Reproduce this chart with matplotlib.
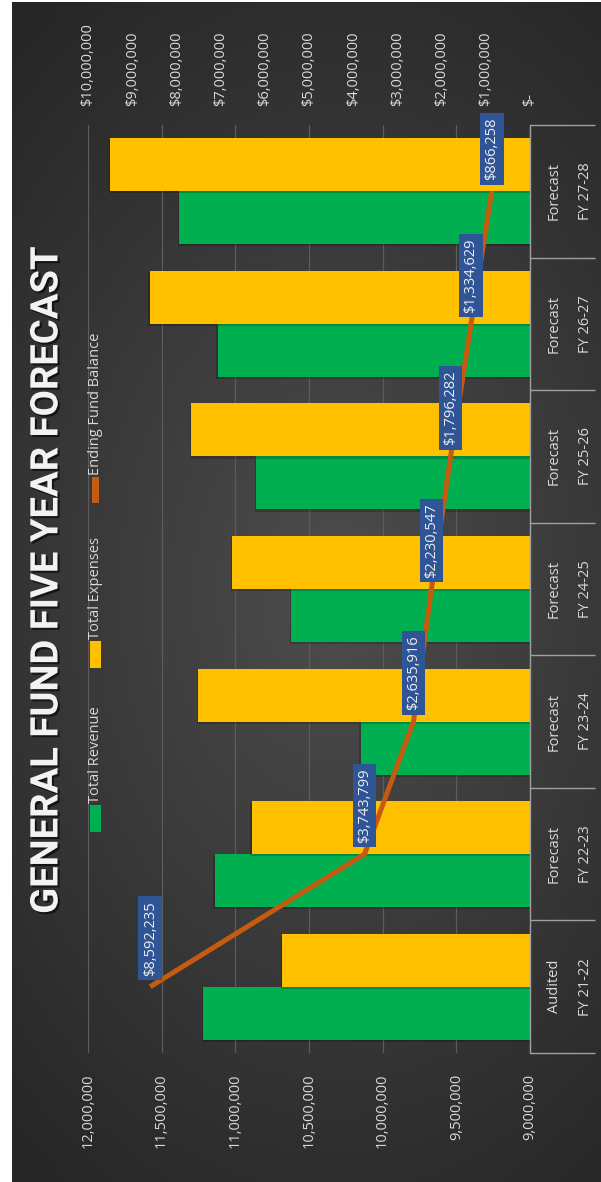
#!/usr/bin/env python
# coding: utf-8
"""
General fund five year forecast, drawn sideways (chart rotated 90 degrees).
"""

import numpy as np
import matplotlib
matplotlib.use('Agg')
import matplotlib.pyplot as plt
import matplotlib.patheffects as pe
from matplotlib.patches import Rectangle
from matplotlib.transforms import blended_transform_factory

# pylint: disable=invalid-name

status = ['Audited', 'Forecast', 'Forecast', 'Forecast', 'Forecast', 'Forecast', 'Forecast']
fiscal_year = ['FY 21-22', 'FY 22-23', 'FY 23-24', 'FY 24-25', 'FY 25-26', 'FY 26-27', 'FY 27-28']
total_revenue = [11220000, 11140000, 10150000, 10620000, 10860000, 11120000, 11380000]
total_expenses = [10680000, 10890000, 11250000, 11020000, 11300000, 11580000, 11850000]
ending_balance = [8592235, 3743799, 2635916, 2230547, 1796282, 1334629, 866258]

primary_ticks = [9000000, 9500000, 10000000, 10500000, 11000000, 11500000, 12000000]
secondary_ticks = [0, 1000000, 2000000, 3000000, 4000000, 5000000, 6000000, 7000000, 8000000, 9000000, 10000000]

GREEN = '#00B050'
YELLOW = '#FFC000'
ORANGE = '#C55A11'
LABEL_BOX = '#2F5597'
TEXT = '#d9d9d9'
FONT = 'Open Sans'

W, H = 601, 1182


def px(x, y):
    # image pixel (top-left origin) -> figure fraction
    return x / W, 1 - y / H
# end func


def draw_background(fig):
    bg = fig.add_axes([12 / W, 0, 1 - 12 / W, 1 - 2 / H], zorder=-10)
    yy, xx = np.mgrid[0:1:400j, 0:1:200j]
    r = np.sqrt(((xx - 0.55) / 0.85) ** 2 + ((yy - 0.5) / 0.62) ** 2)
    r = np.clip(r, 0, 1)
    c0 = np.array([0x4d, 0x4d, 0x4d]) / 255.0
    c1 = np.array([0x26, 0x26, 0x26]) / 255.0
    img = c0 + (c1 - c0) * r[..., None]
    bg.imshow(img, aspect='auto', extent=(0, 1, 0, 1), interpolation='bilinear')
    bg.set_axis_off()
# end func


def main():
    plt.rcParams['font.family'] = [FONT, 'DejaVu Sans']
    fig = plt.figure(figsize=(W / 100, H / 100), dpi=100)
    fig.patch.set_facecolor('white')
    draw_background(fig)

    x0, y1 = px(88, 1053)
    x1, y0 = px(530, 125)
    ax = fig.add_axes([x0, y1, x1 - x0, y0 - y1])
    ax.patch.set_alpha(0)

    y = np.arange(len(fiscal_year))
    shadow = [pe.SimplePatchShadow(offset=(-1, -1.5), shadow_rgbFace='black', alpha=0.2), pe.Normal()]
    bars_r = ax.barh(y - 0.2, total_revenue, height=0.4, color=GREEN, zorder=2)
    bars_e = ax.barh(y + 0.2, total_expenses, height=0.4, color=YELLOW, zorder=2)
    for b in list(bars_r) + list(bars_e):
        b.set_path_effects(shadow)
    # end for

    ax.set_xlim(12000000, 9000000)
    ax.set_ylim(-0.5, len(fiscal_year) - 0.5)
    ax.set_xticks(primary_ticks)
    ax.set_xticklabels(['{:,.0f}'.format(v) for v in primary_ticks], rotation=90,
                       color=TEXT, fontsize=10.5)
    ax.tick_params(axis='x', length=0, pad=15)
    ax.grid(axis='x', color='#5c5c5c', linewidth=0.9)
    ax.set_axisbelow(True)
    for s in ['top', 'bottom', 'left']:
        ax.spines[s].set_visible(False)
    # end for
    ax.spines['right'].set_color('#a0a0a0')
    ax.spines['right'].set_linewidth(1)

    ax.yaxis.set_ticks_position('right')
    ax.set_yticks(y)
    ax.set_yticklabels([])
    ax.set_yticks(np.arange(-0.5, len(fiscal_year)), minor=True)
    ax.tick_params(axis='y', which='major', length=0)
    ax.tick_params(axis='y', which='minor', length=47, width=1, color='#a0a0a0', direction='out')

    trans = blended_transform_factory(ax.transAxes, ax.transData)
    for i, (st, fy) in enumerate(zip(status, fiscal_year)):
        ax.text(1.09, i, '{}\n{}'.format(st, fy), transform=trans, rotation=90, ha='center',
                va='center', linespacing=2.45, multialignment='center', color=TEXT, fontsize=10.5)
    # end for

    # secondary axis for the fund balance line
    ax2 = ax.twiny()
    ax2.patch.set_visible(False)
    ax2.plot(ending_balance, y, color=ORANGE, linewidth=3.6, solid_capstyle='butt',
             solid_joinstyle='round', zorder=4)
    ax2.set_xlim(10000000, 0)
    ax2.set_xticks(secondary_ticks)
    ax2.set_xticklabels(['$-' if v == 0 else '${:,.0f}'.format(v) for v in secondary_ticks],
                        rotation=90, color=TEXT, fontsize=10.5)
    ax2.tick_params(axis='x', length=0, pad=13.5)
    for s in ax2.spines.values():
        s.set_visible(False)
    # end for
    for i, v in enumerate(ending_balance):
        ax2.annotate('${:,.0f}'.format(v), xy=(v, i), xytext=(0, 8), textcoords='offset points',
                     rotation=90, ha='center', va='bottom', color='#eeeeee', fontsize=10.5,
                     bbox=dict(boxstyle='square,pad=0.3', fc=LABEL_BOX, ec='none'), zorder=6)
    # end for

    # legend, laid out by hand because it is rotated
    legend = [(GREEN, 'Total Revenue', 805, 832, 11),
              (YELLOW, 'Total Expenses', 641, 668, 11),
              (ORANGE, 'Ending Fund Balance', 477, 503, 7)]
    for color, label, ya, yb, w in legend:
        lx, ly = px(95.5 - w / 2, yb)
        fig.add_artist(Rectangle((lx, ly), w / W, (yb - ya) / H, transform=fig.transFigure,
                                 facecolor=color, edgecolor='none'))
        tx, ty = px(95.5, ya - 2)
        fig.text(tx, ty, label, rotation=90, ha='center', va='bottom', color=TEXT, fontsize=10.5)
    # end for

    tx, ty = px(47, 580)
    fig.text(tx, ty, 'GENERAL FUND FIVE YEAR FORECAST', rotation=90, ha='center', va='center',
             fontsize=27.5, fontweight='bold', family=['Roboto', 'DejaVu Sans'], color='#f2f2f2',
             path_effects=[pe.withSimplePatchShadow(offset=(1.5, -1.5), shadow_rgbFace='black',
                                                    alpha=0.6)])

    fig.savefig('out.png', dpi=100)
# end func


if __name__ == "__main__":
    main()
# end if
